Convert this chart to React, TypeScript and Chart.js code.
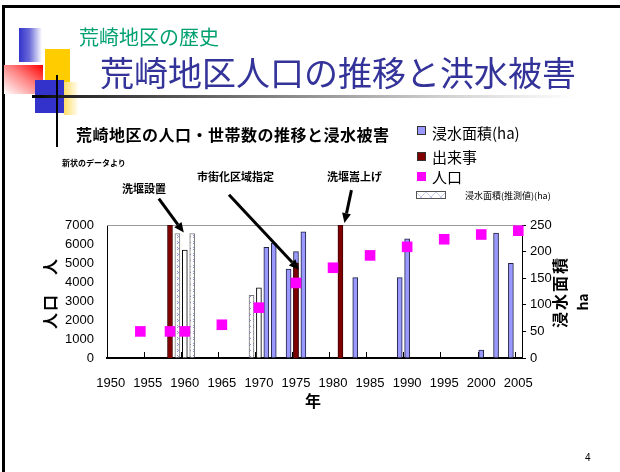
import React, { useEffect, useRef } from "react";
import { Chart, registerables } from "chart.js";

Chart.register(...registerables);

// ---------- DATA ----------
const years = [
  "1950", "1951", "1952", "1953", "1954", "1955", "1956", "1957", "1958", "1959",
  "1960", "1961", "1962", "1963", "1964", "1965", "1966", "1967", "1968", "1969",
  "1970", "1971", "1972", "1973", "1974", "1975", "1976", "1977", "1978", "1979",
  "1980", "1981", "1982", "1983", "1984", "1985", "1986", "1987", "1988", "1989",
  "1990", "1991", "1992", "1993", "1994", "1995", "1996", "1997", "1998", "1999",
  "2000", "2001", "2002", "2003", "2004", "2005",
];

// 浸水面積(ha)
const floodYears = ["1971", "1972", "1974", "1975", "1976", "1983", "1989", "1990", "2000", "2002", "2004"];
const floodArea = [208, 216, 167, 200, 237, 151, 151, 224, 15, 235, 178];

// 浸水面積(推測値)(ha)
const estYears = ["1959", "1960", "1961", "1969", "1970"];
const estArea = [234, 203, 234, 118, 132];
const estHatched = [true, false, true, true, false];

// 出来事
const eventYears = ["1958", "1975", "1981"];
const eventValues = [7000, 5000, 7000];

// 人口
const popYears = ["1954", "1958", "1960", "1965", "1970", "1975", "1980", "1985", "1990", "1995", "2000", "2005"];
const popValues = [1400, 1400, 1400, 1750, 2650, 3950, 4750, 5400, 5850, 6250, 6500, 6700];

// annotation arrows: [year label, tip value on left axis]
const arrowYears = ["1960", "1975", "1981"];
const arrowTipValues = [6600, 4650, 7100];

const FONT_JP = '"Noto Sans CJK JP", "Noto Sans", sans-serif';
const FONT_NUM = '"Liberation Sans", Arial, sans-serif';

function makeHatch(): CanvasPattern | string {
  const c = document.createElement("canvas");
  c.width = 4;
  c.height = 6;
  const g = c.getContext("2d");
  if (!g) return "#fff";
  g.fillStyle = "#ffffff";
  g.fillRect(0, 0, 4, 6);
  g.fillStyle = "#8d92d6";
  g.fillRect(1, 1, 1, 1);
  g.fillRect(2, 2, 1, 1);
  g.fillRect(1, 3, 1, 1);
  const p = g.createPattern(c, "repeat");
  return p || "#fff";
}

const arrowGeom = [
  { dx: -1, tail: [-25, -34] },
  { dx: 3, tail: [-70, -75] },
  { dx: 4, tail: [7, -33] },
];

const overlayPlugin = {
  id: "overlayPlugin",
  beforeDatasetsDraw(chart: any) {
    const { ctx, chartArea } = chart;
    const x = chart.scales.x;
    ctx.save();
    ctx.strokeStyle = "#9a9a9a";
    ctx.lineWidth = 1;
    ctx.beginPath();
    ctx.moveTo(chartArea.left, chartArea.top + 0.5);
    ctx.lineTo(chartArea.right, chartArea.top + 0.5);
    ctx.stroke();
    ctx.strokeStyle = "#000";
    for (let i = 0; i < years.length - 1; i++) {
      if (Number(years[i]) % 5 === 4) {
        const xb = Math.round((x.getPixelForTick(i) + x.getPixelForTick(i + 1)) / 2) + 0.5;
        ctx.beginPath();
        ctx.moveTo(xb, chartArea.bottom - 6);
        ctx.lineTo(xb, chartArea.bottom);
        ctx.stroke();
      }
    }
    ctx.restore();
  },
  afterDatasetsDraw(chart: any) {
    const { ctx } = chart;
    const x = chart.scales.x;
    const y = chart.scales.y;
    ctx.save();
    ctx.strokeStyle = "#000";
    ctx.fillStyle = "#000";
    ctx.lineWidth = 3;
    arrowYears.forEach((yr, i) => {
      const g = arrowGeom[i];
      const tx = x.getPixelForValue(years.indexOf(yr)) + g.dx;
      const ty = y.getPixelForValue(arrowTipValues[i]);
      const sx = tx + g.tail[0];
      const sy = ty + g.tail[1];
      const ang = Math.atan2(ty - sy, tx - sx);
      const hl = 10;
      const hw = 4.5;
      const bx = tx - hl * Math.cos(ang);
      const by = ty - hl * Math.sin(ang);
      ctx.beginPath();
      ctx.moveTo(sx, sy);
      ctx.lineTo(bx, by);
      ctx.stroke();
      ctx.beginPath();
      ctx.moveTo(tx, ty);
      ctx.lineTo(bx + hw * Math.sin(ang), by - hw * Math.cos(ang));
      ctx.lineTo(bx - hw * Math.sin(ang), by + hw * Math.cos(ang));
      ctx.closePath();
      ctx.fill();
    });
    ctx.restore();
  },
};

type TProps = {
  x: number;
  y: number;
  size: number;
  bold?: boolean;
  color?: string;
  family?: string;
  spacing?: number;
  children: React.ReactNode;
};

function T({ x, y, size, bold, color, family, spacing, children }: TProps) {
  return (
    <div
      style={{
        position: "absolute",
        left: x,
        top: y,
        transform: "translateY(-50%)",
        fontSize: size,
        lineHeight: 1,
        fontWeight: bold ? 700 : 400,
        color: color || "#000",
        fontFamily: family || FONT_JP,
        letterSpacing: spacing || 0,
        whiteSpace: "nowrap",
      }}
    >
      {children}
    </div>
  );
}

function R({ cx, cy, size, children, spacing }: { cx: number; cy: number; size: number; children: React.ReactNode; spacing?: number }) {
  return (
    <div
      style={{
        position: "absolute",
        left: cx,
        top: cy,
        transform: "translate(-50%, -50%) rotate(-90deg)",
        fontSize: size,
        lineHeight: 1,
        fontWeight: 700,
        fontFamily: FONT_JP,
        letterSpacing: spacing || 0,
        whiteSpace: "pre",
        color: "#000",
      }}
    >
      {children}
    </div>
  );
}

function Box({ x, y, w, h, bg, border }: { x: number; y: number; w: number; h: number; bg: string; border?: string }) {
  return (
    <div
      style={{
        position: "absolute",
        left: x,
        top: y,
        width: w,
        height: h,
        background: bg,
        border: border || "none",
        boxSizing: "border-box",
      }}
    />
  );
}

export default function App() {
  const ref = useRef<HTMLCanvasElement | null>(null);

  useEffect(() => {
    if (!ref.current) return;
    const hatch = makeHatch();
    const chart = new Chart(ref.current, {
      type: "bar",
      data: {
        labels: years,
        datasets: [
          {
            type: "line",
            label: "人口",
            data: popYears.map((yr, i) => ({ x: yr, y: popValues[i] })) as any,
            yAxisID: "y",
            showLine: false,
            pointStyle: "rect",
            pointRadius: 7.5,
            pointBackgroundColor: "#ff00ff",
            pointBorderColor: "#ff00ff",
            pointBorderWidth: 0,
            backgroundColor: "#ff00ff",
            borderColor: "#ff00ff",
            order: 0,
            clip: false as any,
          },
          {
            type: "bar",
            label: "出来事",
            data: eventYears.map((yr, i) => ({ x: yr, y: eventValues[i] })) as any,
            yAxisID: "y",
            backgroundColor: "#800000",
            borderColor: "#3a0000",
            borderWidth: 1,
            barThickness: 5,
            grouped: false,
            order: 1,
          },
          {
            type: "bar",
            label: "浸水面積(推測値)(ha)",
            data: estYears.map((yr, i) => ({ x: yr, y: estArea[i] })) as any,
            yAxisID: "y2",
            backgroundColor: estHatched.map((h) => (h ? hatch : "#ffffff")) as any,
            borderColor: estHatched.map((h) => (h ? "#7a7a7a" : "#000000")),
            borderWidth: 1,
            barThickness: 5,
            grouped: false,
            order: 2,
          },
          {
            type: "bar",
            label: "浸水面積(ha)",
            data: floodYears.map((yr, i) => ({ x: yr, y: floodArea[i] })) as any,
            yAxisID: "y2",
            backgroundColor: "#9999ff",
            borderColor: "#222244",
            borderWidth: 1,
            barThickness: 5,
            grouped: false,
            order: 3,
          },
        ],
      },
      options: {
        responsive: false,
        animation: false,
        devicePixelRatio: 1,
        events: [],
        layout: { padding: { top: 225, left: 0, right: 0, bottom: 0 } },
        plugins: {
          legend: { display: false },
          tooltip: { enabled: false },
          title: { display: false },
        },
        scales: {
          x: {
            type: "category",
            offset: true,
            grid: { display: false, drawTicks: false },
            border: { display: true, color: "#000", width: 2 },
            ticks: {
              autoSkip: false,
              maxRotation: 0,
              minRotation: 0,
              padding: 18,
              color: "#000",
              font: { family: FONT_NUM, size: 13 },
              callback: (_v: any, i: number) => (Number(years[i]) % 5 === 0 ? years[i] : ""),
            },
            afterFit: (s: any) => {
              s.height = 114;
            },
          },
          y: {
            position: "left",
            min: 0,
            max: 7000,
            grid: { display: false, drawTicks: false },
            border: { display: true, color: "#000", width: 1 },
            ticks: {
              stepSize: 1000,
              padding: 13,
              color: "#000",
              font: { family: FONT_NUM, size: 13 },
              callback: (v: any) => String(v),
            },
            afterFit: (s: any) => {
              s.width = 107;
            },
          },
          y2: {
            position: "right",
            min: 0,
            max: 250,
            grid: { display: true, drawOnChartArea: false, drawTicks: true, tickLength: 4, color: "#000" },
            border: { display: true, color: "#000", width: 1 },
            ticks: {
              stepSize: 50,
              padding: 4,
              color: "#000",
              font: { family: FONT_NUM, size: 13 },
              callback: (v: any) => String(v),
            },
            afterFit: (s: any) => {
              s.width = 98;
            },
          },
        },
      } as any,
      plugins: [overlayPlugin],
    });
    return () => chart.destroy();
  }, []);

  return (
    <div
      style={{
        position: "absolute",
        left: 0,
        top: 0,
        width: 620,
        height: 472,
        background: "#fff",
        overflow: "hidden",
        fontFamily: FONT_JP,
      }}
    >
      <canvas ref={ref} width={620} height={472} style={{ position: "absolute", left: 0, top: 0, width: 620, height: 472 }} />

      {/* slide frame */}
      <div style={{ position: "absolute", left: 2, top: 5, width: 640, height: 500, borderTop: "3px solid #000", borderLeft: "3px solid #000" }} />

      {/* decorations */}
      <Box x={19} y={28} w={23} h={34} bg="linear-gradient(to right, #3333cc 0%, #6a6ad8 45%, #ffffff 100%)" />
      <Box x={45} y={49} w={25} h={33} bg="#ffcc00" />
      <Box x={4} y={65} w={39} h={29} bg="linear-gradient(to bottom left, #ff0000 0%, #ff8080 45%, #ffffff 100%)" />
      <Box x={35} y={80} w={29} h={33} bg="#3333cc" />
      <Box x={64} y={82} w={15} h={33} bg="linear-gradient(to right, #ffdd66 0%, #ffffff 100%)" />
      <Box x={32} y={95} w={543} h={3} bg="linear-gradient(to right, #000 0%, #222 6%, #777 40%, #cfcfcf 75%, #ffffff 100%)" />
      <Box x={56} y={75} w={2} h={72} bg="#000" />

      {/* titles */}
      <T x={79} y={37} size={20} color="#00a070">荒崎地区の歴史</T>
      <T x={100} y={72} size={34} color="#333399">荒崎地区人口の推移と洪水被害</T>
      <T x={76} y={134} size={16} bold spacing={0.5}>荒崎地区の人口・世帯数の推移と浸水被害</T>

      {/* annotations */}
      <T x={62} y={163} size={8} bold>新状のデータより</T>
      <T x={122} y={188} size={11} bold>洗堰設置</T>
      <T x={197} y={176} size={11} bold>市街化区域指定</T>
      <T x={327} y={176} size={11} bold>洗堰嵩上げ</T>

      {/* legend */}
      <Box x={417} y={126} w={9} h={9} bg="#9999ff" border="1px solid #333" />
      <T x={432} y={132} size={15}>浸水面積(ha)</T>
      <Box x={417} y={152} w={9} h={9} bg="#800000" border="1px solid #333" />
      <T x={432} y={156} size={15}>出来事</T>
      <Box x={417} y={172} w={9} h={9} bg="#ff00ff" />
      <T x={432} y={176} size={15}>人口</T>
      <Box
        x={416}
        y={191}
        w={30}
        h={8}
        bg="repeating-linear-gradient(45deg, transparent 0 3px, #c8cdf0 3px 4px, transparent 4px 7px), repeating-linear-gradient(-45deg, transparent 0 3px, #c8cdf0 3px 4px, transparent 4px 7px), #fff"
        border="1px solid #555"
      />
      <T x={465} y={195} size={9}>浸水面積(推測値)(ha)</T>

      {/* axis titles */}
      <R cx={49} cy={293} size={16} spacing={2}>人口　人</R>
      <R cx={559} cy={292} size={16} spacing={2}>浸水面積</R>
      <R cx={582} cy={302} size={14}>ha</R>
      <div
        style={{
          position: "absolute",
          left: 313,
          top: 400,
          transform: "translate(-50%, -50%)",
          fontSize: 16,
          lineHeight: 1,
          fontWeight: 700,
          fontFamily: FONT_JP,
        }}
      >
        年
      </div>

      {/* page number */}
      <T x={585} y={458} size={10} family={FONT_NUM}>4</T>
    </div>
  );
}
